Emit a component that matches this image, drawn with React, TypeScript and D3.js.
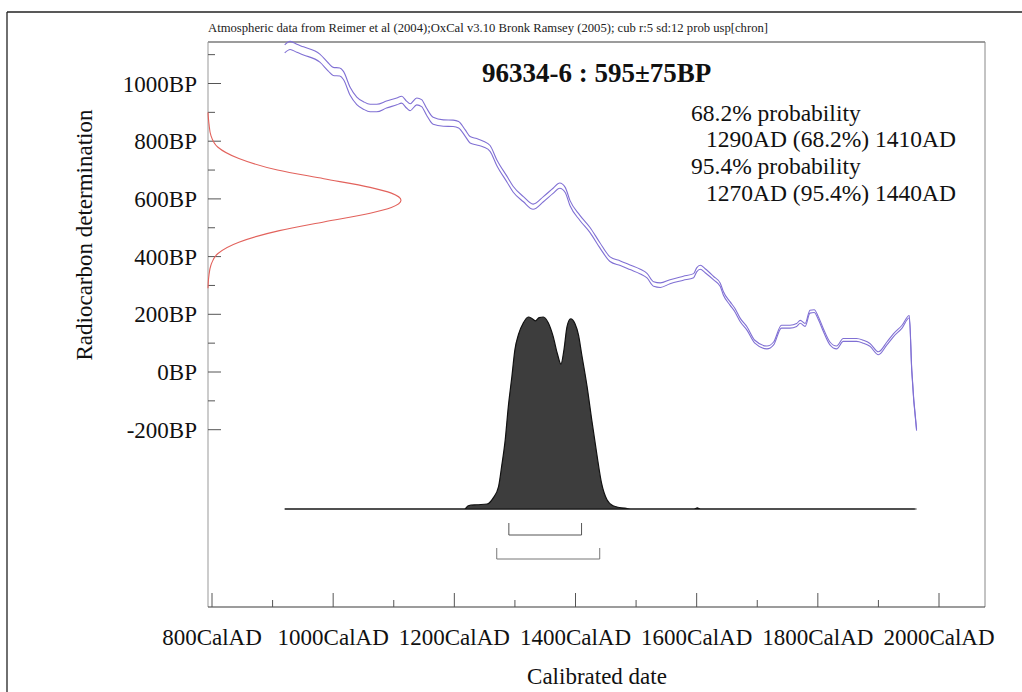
import React from "react";
import * as d3 from "d3";

// Calibration curve (IntCal04 as drawn): calendar year AD, radiocarbon age BP, 1-sigma
const curveYears = [920, 929, 940, 951, 978, 992, 1000, 1011, 1017, 1028, 1039, 1050, 1061, 1072, 1088, 1105, 1113, 1121, 1127, 1138, 1146, 1154, 1165, 1182, 1198, 1207, 1218, 1226, 1237, 1248, 1259, 1270, 1287, 1297, 1314, 1330, 1347, 1363, 1374, 1383, 1391, 1407, 1424, 1440, 1457, 1474, 1490, 1507, 1518, 1529, 1540, 1556, 1578, 1595, 1600, 1606, 1614, 1628, 1639, 1644, 1655, 1663, 1672, 1683, 1696, 1716, 1727, 1740, 1754, 1765, 1771, 1779, 1787, 1794, 1801, 1809, 1820, 1831, 1842, 1853, 1864, 1875, 1886, 1900, 1914, 1925, 1939, 1951, 1955, 1963];
const curveBP = [1120, 1132, 1122, 1113, 1088, 1057, 1042, 1040, 1028, 973, 940, 924, 915, 915, 927, 938, 944, 927, 918, 938, 932, 903, 871, 863, 862, 857, 828, 805, 798, 790, 775, 726, 668, 634, 599, 573, 599, 628, 646, 631, 585, 535, 492, 440, 391, 377, 363, 348, 334, 305, 301, 313, 325, 334, 354, 363, 351, 325, 302, 273, 238, 215, 180, 151, 105, 85, 99, 157, 157, 163, 174, 163, 209, 211, 186, 146, 99, 85, 111, 111, 111, 105, 94, 65, 99, 128, 157, 192, 7, -201];
const curveSigma = [14, 14, 14, 14, 14, 14, 14, 14, 14, 14, 13, 13, 13, 13, 12, 12, 12, 12, 12, 12, 12, 12, 12, 11, 11, 11, 11, 11, 11, 10, 10, 10, 10, 10, 9, 9, 9, 9, 9, 9, 9, 9, 9, 9, 8, 8, 8, 8, 8, 8, 8, 7, 7, 7, 7, 7, 7, 6, 6, 6, 6, 6, 6, 6, 5, 5, 5, 5, 5, 5, 5, 5, 5, 5, 5, 5, 5, 5, 5, 5, 5, 5, 5, 5, 5, 5, 5, 4, 3, 2];

// Measured radiocarbon age distribution (red), relative density
const measBP = [900, 860, 820, 780, 740, 700, 670, 640, 620, 595, 570, 550, 520, 490, 450, 410, 370, 330, 290];
const measDensity = [0, 0.005, 0.015, 0.05, 0.16, 0.36, 0.6, 0.84, 0.95, 1.0, 0.95, 0.84, 0.6, 0.37, 0.16, 0.05, 0.015, 0.004, 0];

// Calibrated probability distribution (black), relative density
const calYears = [920, 1217, 1223, 1237, 1254, 1264, 1273, 1278, 1284, 1289, 1295, 1300, 1306, 1314, 1322, 1329, 1334, 1340, 1347, 1355, 1363, 1370, 1376, 1381, 1386, 1392, 1399, 1405, 1410, 1419, 1427, 1435, 1443, 1452, 1462, 1484, 1495, 1596, 1601, 1606, 1960];
const calDensity = [0, 0, 0.017, 0.022, 0.026, 0.057, 0.117, 0.22, 0.36, 0.53, 0.69, 0.83, 0.91, 0.97, 1.0, 0.99, 0.98, 0.997, 1.0, 0.97, 0.9, 0.81, 0.755, 0.83, 0.95, 0.99, 0.966, 0.905, 0.81, 0.64, 0.46, 0.29, 0.135, 0.048, 0.017, 0.003, 0, 0, 0.006, 0, 0];

// Ranges
const range68 = [1290, 1410];
const range95 = [1270, 1440];

const xTicks = [800, 900, 1000, 1100, 1200, 1300, 1400, 1500, 1600, 1700, 1800, 1900, 2000];
const yTicks = [-200, -100, 0, 100, 200, 300, 400, 500, 600, 700, 800, 900, 1000, 1100];

const headerText = "Atmospheric data from Reimer et al (2004);OxCal v3.10 Bronk Ramsey (2005); cub r:5 sd:12 prob usp[chron]";
const titleText = "96334-6 : 595\u00b175BP";
const probLines = [
  { text: "68.2% probability", indent: false },
  { text: "1290AD (68.2%) 1410AD", indent: true },
  { text: "95.4% probability", indent: false },
  { text: "1270AD (95.4%) 1440AD", indent: true },
];

const FONT = "'Liberation Serif', 'Times New Roman', Times, serif";

export default function App() {
  const W = 1022, H = 692;
  const left = 208, right = 985, top = 42, bottom = 607;
  const x = d3.scaleLinear().domain([800, 2000]).range([212, 939]);
  const y = d3.scaleLinear().domain([0, 1000]).range([372, 83.5]);
  const distBase = 509;
  const dy = d3.scaleLinear().domain([0, 1]).range([distBase, distBase - 192]);
  const mx = d3.scaleLinear().domain([0, 1]).range([left, left + 193]);

  const idx = curveYears.map((_, i) => i);
  const upper = d3.line<number>()
    .x((i) => x(curveYears[i]))
    .y((i) => y(curveBP[i] + curveSigma[i]))
    .curve(d3.curveMonotoneX)(idx) || "";
  const lower = d3.line<number>()
    .x((i) => x(curveYears[i]))
    .y((i) => y(curveBP[i] - curveSigma[i]))
    .curve(d3.curveMonotoneX)(idx) || "";

  const measIdx = measBP.map((_, i) => i);
  const measPath = d3.line<number>()
    .x((i) => mx(measDensity[i]))
    .y((i) => y(measBP[i]))
    .curve(d3.curveMonotoneY)(measIdx) || "";

  const calIdx = calYears.map((_, i) => i);
  const calArea = d3.area<number>()
    .x((i) => x(calYears[i]))
    .y0(distBase)
    .y1((i) => dy(calDensity[i]))
    .curve(d3.curveMonotoneX)(calIdx) || "";

  const axisColor = "#3a3a3a";

  return (
    <svg width={W} height={H} style={{ position: "absolute", left: 0, top: 0, background: "#fff" }} fontFamily={FONT}>
      <rect x={0} y={0} width={W} height={H} fill="#fff" />
      {/* outer frame */}
      <line x1={7} y1={12} x2={W} y2={12} stroke="#222" strokeWidth={1.3} />
      <line x1={7} y1={12} x2={7} y2={H} stroke="#222" strokeWidth={1.3} />

      {/* header */}
      <text x={208} y={32} fontSize={12} fill="#222" textLength={560} lengthAdjust="spacingAndGlyphs">{headerText}</text>

      {/* plot frame */}
      <line x1={left} y1={top} x2={right} y2={top} stroke={axisColor} strokeWidth={1.2} />
      <line x1={right} y1={top} x2={right} y2={bottom} stroke="#888" strokeWidth={1} />
      <line x1={left} y1={top} x2={left} y2={bottom} stroke="#999" strokeWidth={1} />
      <line x1={left} y1={bottom} x2={right} y2={bottom} stroke={axisColor} strokeWidth={1.2} />

      {/* y ticks */}
      {yTicks.map((t) => {
        const major = t % 200 === 0;
        return (
          <g key={"y" + t}>
            <line x1={left} x2={left + (major ? 13 : 7)} y1={y(t)} y2={y(t)} stroke="#555" strokeWidth={1} />
            {major && (
              <text x={197} y={y(t) + 8} fontSize={23} textAnchor="end" fill="#111">{t + "BP"}</text>
            )}
          </g>
        );
      })}

      {/* x ticks */}
      {xTicks.map((t) => {
        const major = t % 200 === 0;
        return (
          <g key={"x" + t}>
            <line x1={x(t)} x2={x(t)} y1={bottom} y2={bottom - (major ? 14 : 7)} stroke="#555" strokeWidth={1} />
            {major && (
              <text x={x(t)} y={645} fontSize={23} textAnchor="middle" fill="#111">{t + "CalAD"}</text>
            )}
          </g>
        );
      })}

      {/* axis titles */}
      <text x={597} y={684} fontSize={23} textAnchor="middle" fill="#111">Calibrated date</text>
      <text transform="translate(92,235) rotate(-90)" fontSize={23} textAnchor="middle" fill="#111">Radiocarbon determination</text>

      {/* calibration curve */}
      <path d={upper} fill="none" stroke="#8070d4" strokeWidth={1.1} />
      <path d={lower} fill="none" stroke="#8070d4" strokeWidth={1.1} />

      {/* measured distribution */}
      <path d={measPath} fill="none" stroke="#e2625c" strokeWidth={1.1} />

      {/* calibrated distribution */}
      <line x1={x(curveYears[0])} x2={x(curveYears[curveYears.length - 1])} y1={distBase} y2={distBase} stroke="#222" strokeWidth={1.2} />
      <path d={calArea} fill="#3d3d3d" stroke="#111" strokeWidth={1.2} />

      {/* range brackets */}
      <path d={`M${x(range68[0])},${523} V${535} H${x(range68[1])} V${523}`} fill="none" stroke="#555" strokeWidth={1} />
      <path d={`M${x(range95[0])},${548} V${559} H${x(range95[1])} V${548}`} fill="none" stroke="#777" strokeWidth={1} />

      {/* title and probabilities */}
      <text x={482} y={82} fontSize={27} fontWeight="bold" fill="#111">{titleText}</text>
      {probLines.map((l, i) => (
        <text key={i} x={l.indent ? 706 : 691} y={120.5 + i * 26.7} fontSize={23.5} fill="#111">{l.text}</text>
      ))}
    </svg>
  );
}
